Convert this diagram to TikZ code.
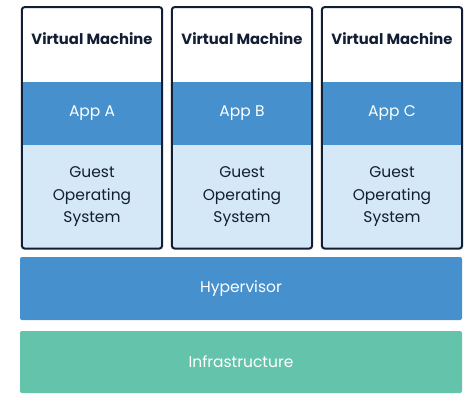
\documentclass[tikz,border=0pt]{standalone}
\usepackage{fontspec}
\setmainfont{Poppins}
\definecolor{hvblue}{RGB}{69, 144, 205}
\definecolor{oslight}{RGB}{213, 232, 248}
\definecolor{infragreen}{RGB}{99, 195, 171}
\definecolor{vmnavy}{RGB}{18, 30, 52}
\usepackage{tikz}
\usetikzlibrary{positioning}

\begin{document}
\begin{tikzpicture}[x=1pt, y=-1pt, font=\fontsize{15.5}{22.5}\selectfont,
                    layer/.style={minimum width=140pt, inner sep=0pt, align=center},
                    appbox/.style={layer, fill=hvblue, text=white, minimum height=63pt},
                    osbox/.style={layer, fill=oslight, text=vmnavy, minimum height=103pt},
                    vmtitle/.style={font=\fontsize{14.8}{17}\selectfont\bfseries, text=vmnavy},
                    vmframe/.style={draw=vmnavy, line width=2pt, rounded corners=3pt},
                    basebox/.style={minimum width=442pt, inner sep=0pt, rounded corners=2pt, text=white}]
                    \useasboundingbox (0, 0) rectangle (467, 400);
                    \foreach \n/\xc in {A/92, B/242, C/392} {
                        \node[appbox] (app\n) at (\xc, 113.5) {App \n};
                        \node[osbox, below=0pt of app\n] (os\n) {Guest\\Operating\\System};
                        \node[vmtitle] (title\n) at (\xc, 39) {Virtual Machine};
                        \draw[vmframe] (app\n.west |- 0, 7) rectangle (os\n.south east);
                    }
                    \node[basebox, fill=hvblue, minimum height=63pt] (hyper) at (241, 288.5) {Hypervisor};
                    \node[basebox, fill=infragreen, minimum height=62pt] (infra) at (241, 362) {Infrastructure};
                \end{tikzpicture}
\end{document}
